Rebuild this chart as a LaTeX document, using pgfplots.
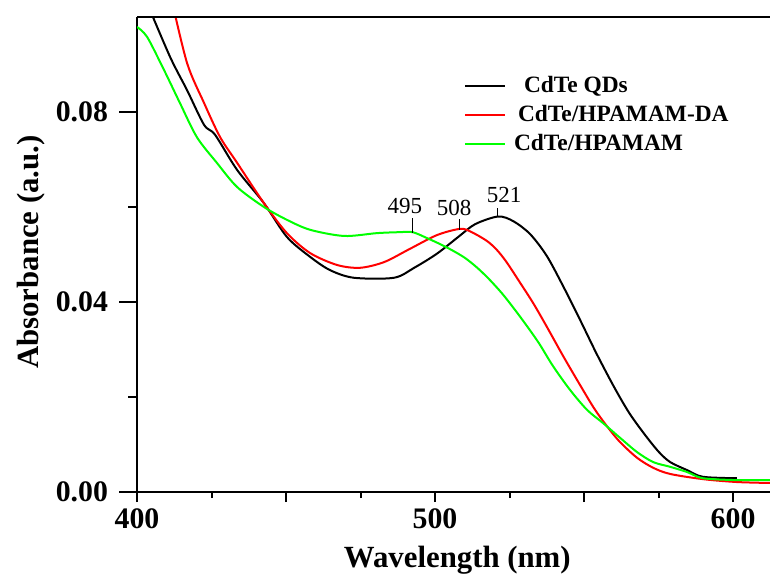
\documentclass[border=0pt]{standalone}
\usepackage{fontspec}
\setmainfont{Liberation Serif}
\usepackage{pgfplots}
\pgfplotsset{compat=1.18}
\definecolor{qdred}{RGB}{255,0,0}
\definecolor{qdgreen}{RGB}{0,255,0}

\begin{document}
\begin{tikzpicture}
% 1px of the reference = 0.5pt
\path[use as bounding box] (-68.5pt,-43.5pt) rectangle (316.5pt,246pt);
\begin{axis}[
    at={(0,0)}, anchor=south west,
    scale only axis,
    width=316.5pt, height=237.5pt,
    xmin=400, xmax=612.4,
    ymin=0, ymax=0.1,
    axis x line*=bottom, axis y line*=left,
    axis line style={line width=1pt},
    clip mode=individual,
    xtick={400,450,500,550,600},
    xticklabels={400,,500,,600},
    minor xtick={425,475,525,575},
    ytick={0,0.04,0.08},
    yticklabels={0.00,0.04,0.08},
    tick align=outside,
    major tick length=5pt, minor tick length=3pt,
    tick style={line width=1pt, black},
    ytick style={draw=none},
    ticklabel style={font=\bfseries\fontsize{14.9}{16}\selectfont},
    xticklabel style={anchor=base, yshift=-13pt},
    yticklabel style={anchor=east, xshift=-6pt},
    xlabel={Wavelength (nm)},
    ylabel={Absorbance (a.u.)},
    every axis x label/.style={at={(axis description cs:0.506,-0.158)}, anchor=base,
        font=\bfseries\fontsize{15.4}{17}\selectfont},
    every axis y label/.style={at={(axis description cs:-0.155,0.505)}, anchor=base, rotate=90,
        font=\bfseries\fontsize{15.4}{17}\selectfont},
    legend style={at={(axis description cs:0.516,0.885)}, anchor=north west,
        draw=none, fill=none, inner sep=0pt, row sep=1pt,
        font=\bfseries\fontsize{11.7}{14}\selectfont},
    legend cell align=left,
    legend image code/.code={\draw[#1] (0pt,0pt) -- (20pt,0pt); \path (24pt,0pt);},
]

% CdTe QDs
\addplot[black, line width=1pt, smooth] coordinates {
    (403.0,0.1035) (411.1,0.0916) (416.8,0.0846) (422.5,0.0773) (426.2,0.0752)
    (433.6,0.0678) (442.6,0.0608) (450.3,0.0537) (458.1,0.0495) (464.8,0.0467)
    (472.8,0.0451) (486.2,0.0451) (493.0,0.0472) (500.7,0.0502) (508.0,0.0538)
    (513.5,0.0564) (521.2,0.0580) (526.3,0.0570) (531.9,0.0543) (537.5,0.0497)
    (543.1,0.0432) (548.7,0.0362) (554.3,0.0290) (560.0,0.0222) (565.0,0.0168)
    (570.0,0.0124) (575.0,0.0085) (578.9,0.0063) (584.6,0.0046) (589.9,0.0032)
    (601.3,0.0029)
};
\addlegendentry{\hspace{3pt}CdTe QDs}

% CdTe/HPAMAM-DA
\addplot[qdred, line width=1pt, smooth] coordinates {
    (411.5,0.1040) (416.8,0.0903) (422.5,0.0819) (427.9,0.0747) (433.6,0.0693)
    (442.6,0.0608) (450.3,0.0545) (458.1,0.0503) (467.1,0.0478) (474.8,0.0472)
    (482.9,0.0484) (491.6,0.0512) (500.7,0.0541) (508.4,0.0554) (512.0,0.0548)
    (517.3,0.0529) (520.7,0.0510) (524.0,0.0484) (528.5,0.0441) (533.0,0.0397)
    (537.5,0.0348) (543.1,0.0285) (548.5,0.0227) (553.5,0.0175) (558.0,0.0136)
    (562.1,0.0105) (567.8,0.0072) (573.2,0.0051) (578.9,0.0038) (590.0,0.0027)
    (601.3,0.0021) (612.4,0.0019)
};
\addlegendentry{CdTe/HPAMAM-DA}

% CdTe/HPAMAM
\addplot[qdgreen, line width=1pt, smooth] coordinates {
    (400.0,0.0979) (403.4,0.0958) (409.1,0.0888) (414.4,0.0819) (420.1,0.0747)
    (426.8,0.0693) (433.6,0.0642) (442.6,0.0600) (450.3,0.0573) (458.1,0.0552)
    (469.5,0.0539) (480.5,0.0545) (488.0,0.0547) (492.5,0.0547) (497.5,0.0534)
    (502.0,0.0521) (506.0,0.0508) (510.0,0.0493) (514.0,0.0473) (518.0,0.0449)
    (522.5,0.0418) (527.0,0.0382) (531.0,0.0348) (535.0,0.0312) (539.6,0.0265)
    (545.3,0.0215) (551.0,0.0173) (556.4,0.0145) (562.1,0.0114) (567.8,0.0084)
    (573.2,0.0063) (578.9,0.0053) (584.6,0.0042) (589.9,0.0029) (601.3,0.0025)
    (612.4,0.0025)
};
\addlegendentry{\hspace{-2pt}CdTe/HPAMAM}

% frame top and the longer y ticks
\draw[line width=1pt] (rel axis cs:0,1) -- (rel axis cs:1,1);
\draw[line width=1pt] (axis cs:400,0) -- ++(-9pt,0pt);
\draw[line width=1pt] (axis cs:400,0.04) -- ++(-9pt,0pt);
\draw[line width=1pt] (axis cs:400,0.08) -- ++(-9pt,0pt);
\draw[line width=1pt] (axis cs:400,0.02) -- ++(-4.3pt,0pt);
\draw[line width=1pt] (axis cs:400,0.06) -- ++(-4.3pt,0pt);

% peak markers
\draw[line width=0.5pt] (axis cs:492.3,0.0545) -- (axis cs:492.3,0.0577);
\node[font=\fontsize{11.5}{12}\selectfont] at (axis cs:489.9,0.0602) {495};
\draw[line width=0.5pt] (axis cs:508.1,0.0552) -- (axis cs:508.1,0.0575);
\node[font=\fontsize{11.5}{12}\selectfont] at (axis cs:506.4,0.0599) {508};
\draw[line width=0.5pt] (axis cs:521.1,0.0579) -- (axis cs:521.1,0.0598);
\node[font=\fontsize{11.5}{12}\selectfont] at (axis cs:523.2,0.0626) {521};

\end{axis}
\end{tikzpicture}
\end{document}
